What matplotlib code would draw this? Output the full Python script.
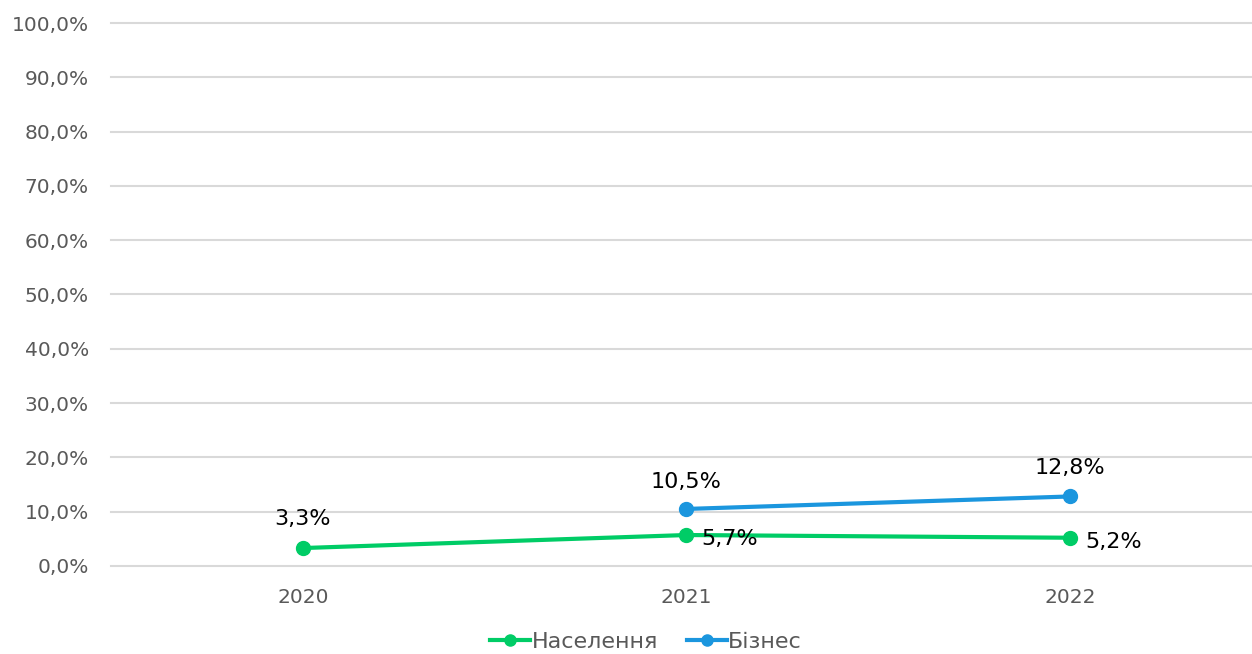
import matplotlib.pyplot as plt
import numpy as np
from matplotlib.lines import Line2D

years = ['2020', '2021', '2022']
naselennia = [3.3, 5.7, 5.2]
biznes = [np.nan, 10.5, 12.8]
yticks = list(range(0, 101, 10))

green = '#00CC66'
blue = '#1B96DE'
grey = '#595959'

fig = plt.figure(figsize=(12.52, 6.54), dpi=100)
ax = fig.add_axes([0.0887, 0.1346, 0.9113, 0.8302])

x = np.arange(len(years))
ax.plot(x, naselennia, '-o', color=green, lw=3, ms=10, solid_capstyle='round', zorder=3)
ax.plot(x, biznes, '-o', color=blue, lw=3, ms=10, solid_capstyle='round', zorder=3)

# data labels
ax.annotate('3,3%', (x[0], naselennia[0]), xytext=(0, 14), textcoords='offset points',
            ha='center', va='bottom', fontsize=16)
ax.annotate('5,7%', (x[1], naselennia[1]), xytext=(11, -3), textcoords='offset points',
            ha='left', va='center', fontsize=16)
ax.annotate('5,2%', (x[2], naselennia[2]), xytext=(11, -3), textcoords='offset points',
            ha='left', va='center', fontsize=16)
ax.annotate('10,5%', (x[1], biznes[1]), xytext=(0, 12), textcoords='offset points',
            ha='center', va='bottom', fontsize=16)
ax.annotate('12,8%', (x[2], biznes[2]), xytext=(0, 13), textcoords='offset points',
            ha='center', va='bottom', fontsize=16)

ax.set_xlim(-0.5, 2.475)
ax.set_ylim(0, 100)
ax.set_xticks(x)
ax.set_xticklabels(years)
ax.set_yticks(yticks)
ax.set_yticklabels([f'{v:.1f}%'.replace('.', ',') for v in yticks])
ax.tick_params(length=0, labelsize=14.5, colors=grey)
ax.tick_params(axis='y', pad=16)
ax.tick_params(axis='x', pad=16)
ax.grid(axis='y', color='#d9d9d9', lw=1.5)
for gl in ax.get_ygridlines():
    gl.set_clip_on(False)
ax.set_axisbelow(True)
for s in ax.spines.values():
    s.set_visible(False)

handles = [
    Line2D([], [], color=green, lw=3, marker='o', ms=8),
    Line2D([], [], color=blue, lw=3, marker='o', ms=8),
]
fig.legend(handles, ['Населення', 'Бізнес'], loc='center', bbox_to_anchor=(0.516, 0.018),
           ncol=2, frameon=False, fontsize=16, labelcolor=grey,
           handlelength=1.8, handletextpad=0.05, columnspacing=1.3)

fig.savefig('out.png', dpi=100)
